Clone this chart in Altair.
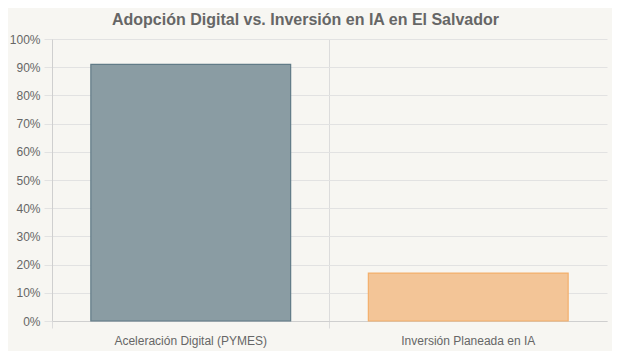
import altair as alt
import pandas as pd

categories = ["Aceleración Digital (PYMES)", "Inversión Planeada en IA"]
values = [91, 17]
fills = ["#8a9ca3", "#f3c597"]
strokes = ["#617b87", "#f4b06c"]

df = pd.DataFrame({"cat": categories, "val": values, "fill": fills, "stroke": strokes})

FONT = "Liberation Sans"

bars = alt.Chart(df).mark_bar(width=alt.RelativeBandSize(0.72), strokeWidth=1.2).encode(
    x=alt.X("cat:N", sort=categories, title=None,
            scale=alt.Scale(paddingInner=0, paddingOuter=0),
            axis=alt.Axis(labelAngle=0, bandPosition=0, grid=True, gridColor="#dcdcdc",
                          domainColor="#cfcfcf", tickColor="#dcdcdc", tickSize=7,
                          labelFont=FONT, labelFontSize=12, labelColor="#666666",
                          labelPadding=7)),
    y=alt.Y("val:Q", title=None,
            scale=alt.Scale(domain=[0, 100]),
            axis=alt.Axis(values=list(range(0, 101, 10)), labelExpr="datum.value + '%'",
                          gridColor="#e2e2e2", domainColor="#cfcfcf", tickColor="#e2e2e2",
                          tickSize=8, labelFont=FONT, labelFontSize=12, labelColor="#666666",
                          labelPadding=4)),
    fill=alt.Fill("fill:N", scale=None),
    stroke=alt.Stroke("stroke:N", scale=None),
)

chart = bars.properties(
    width=555,
    height=282,
    title=alt.TitleParams("Adopción Digital vs. Inversión en IA en El Salvador",
                          font=FONT, fontSize=16, fontWeight="bold", color="#666666",
                          anchor="middle", dx=-24, offset=5),
    background="#f7f6f2",
    padding={"left": 44, "top": 31, "right": 5, "bottom": 30},
    autosize=alt.AutoSizeParams(type="none"),
).configure_view(stroke=None)

chart.save("out.html", embed_options={"renderer": "svg", "actions": False})
